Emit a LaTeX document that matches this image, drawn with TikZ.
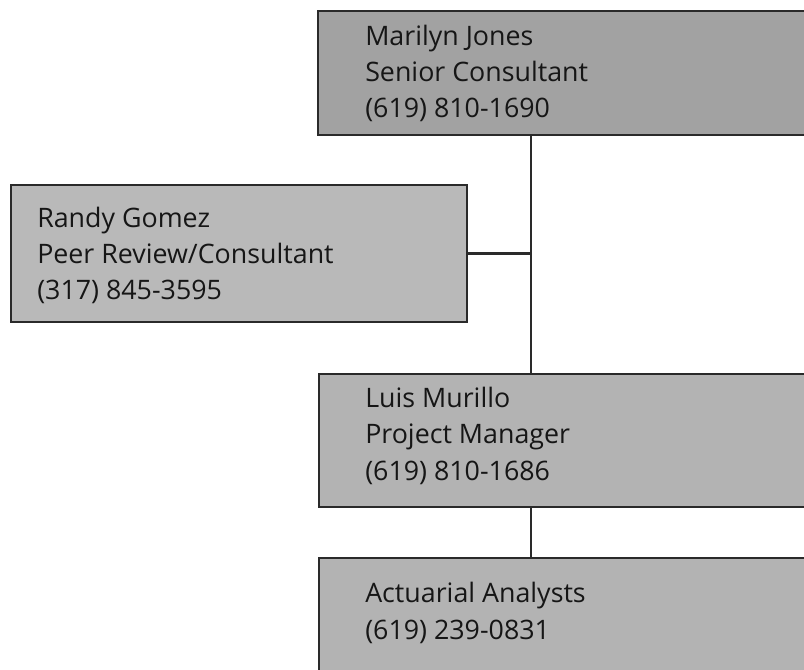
\documentclass[tikz,border=0pt]{standalone}
\usepackage{fontspec}
\setmainfont{Open Sans}
\definecolor{boxdark}{HTML}{A2A2A2}
\definecolor{boxmid}{HTML}{B3B3B3}
\definecolor{boxlight}{HTML}{B9B9B9}
\definecolor{edge}{HTML}{2A2A2A}
\definecolor{ink}{HTML}{161616}
\tikzset{
  box/.style={draw=edge, line width=1.5pt, anchor=north west, inner sep=0pt},
  txt/.style={anchor=base west, align=left, inner sep=0pt, text=ink,
    font=\fontsize{20.1}{27.3}\selectfont},
  conn/.style={draw=edge, line width=1.6pt}
}
\begin{document}
\begin{tikzpicture}[x=0.75pt,y=-0.75pt]
\clip (0,0) rectangle (804,670);
\fill[white] (0,0) rectangle (804,670);
\node[box, fill=boxdark, minimum width=520*0.75pt, minimum height=124*0.75pt] (mj) at (317,10) {};
\node[box, fill=boxlight, minimum width=456*0.75pt, minimum height=137*0.75pt] (rg) at (10,184) {};
\node[box, fill=boxmid, minimum width=520*0.75pt, minimum height=133*0.75pt] (lm) at (318,373) {};
\node[box, fill=boxmid, minimum width=520*0.75pt, minimum height=140*0.75pt] (aa) at (318,557) {};
% base anchor = baseline of the last line
\node[txt] (mjt) at (365,118) {Marilyn Jones\\Senior Consultant\\(619) 810-1690};
\node[txt] (rgt) at (37,300) {Randy Gomez\\Peer Review/Consultant\\(317) 845-3595};
\node[txt] (lmt) at (365,480) {Luis Murillo\\Project Manager\\(619) 810-1686};
\node[txt] (aat) at (365,639) {Actuarial Analysts\\(619) 239-0831};
\coordinate (jx) at (531,0);
\draw[conn] (mj.south -| jx) -- (lm.north -| jx);
\draw[conn] (rg.east) -- (rg.east -| jx);
\draw[conn] (lm.south -| jx) -- (aa.north -| jx);
\end{tikzpicture}
\end{document}
